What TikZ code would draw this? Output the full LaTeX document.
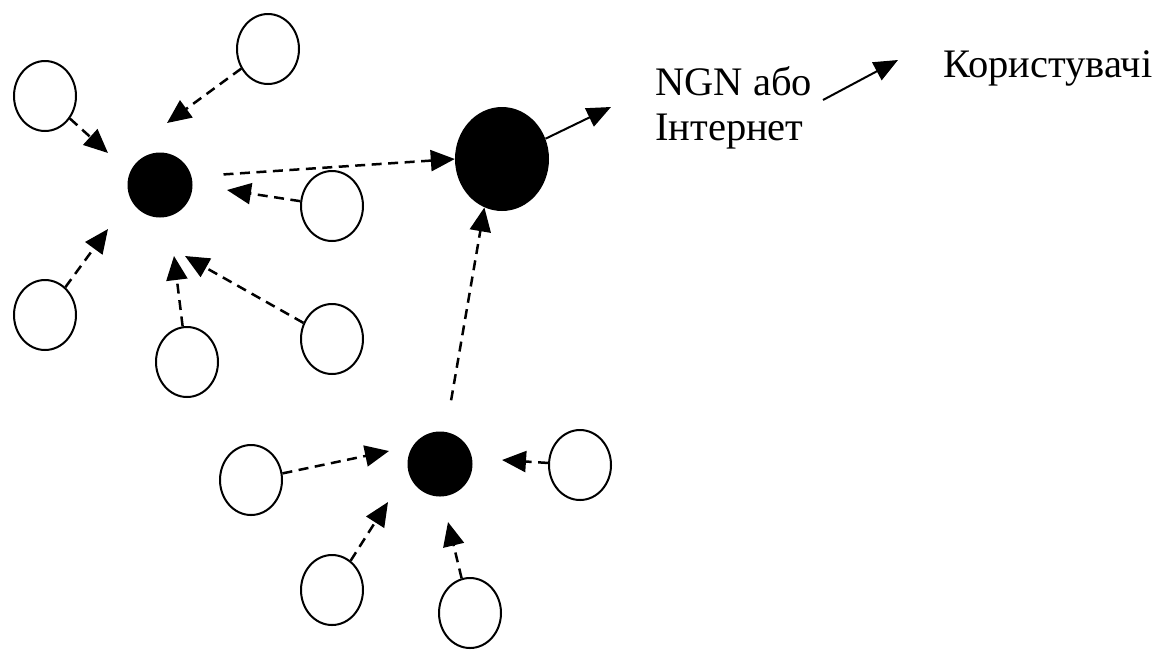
\documentclass[tikz,border=0pt]{standalone}
\usepackage{fontspec}
\setmainfont{Liberation Serif}
\usetikzlibrary{arrows.meta,shapes.geometric}
\begin{document}
\begin{tikzpicture}[x=1pt,y=-1pt,
  leaf/.style={draw,line width=2pt,ellipse,minimum width=62pt,minimum height=70pt,inner sep=0pt,fill=white},
  hub/.style={circle,fill=black,minimum size=65pt,inner sep=0pt},
  core/.style={ellipse,fill=black,minimum width=94pt,minimum height=104pt,inner sep=0pt},
  dasharrow/.style={line width=2.5pt,dash pattern=on 10pt off 6.5pt,-{Triangle[length=24pt,width=21pt]}},
  solidarrow/.style={line width=2pt,-{Triangle[length=24pt,width=20pt]}},
  lbl/.style={inner sep=0pt,anchor=base west,font=\fontsize{40.5}{46}\selectfont}]
\useasboundingbox (0,0) rectangle (1166,649);
% hubs
\node[hub] (hub1) at (160,185) {};
\node[hub] (hub2) at (440,464) {};
\node[core] (big) at (502,159) {};
% leaves
\node[leaf] (c1) at (45,96) {};
\node[leaf] (c2) at (268,49) {};
\node[leaf] (c3) at (332,206) {};
\node[leaf] (c4) at (45,315) {};
\node[leaf] (c5) at (187,362) {};
\node[leaf] (c6) at (332,339) {};
\node[leaf] (c7) at (251,480) {};
\node[leaf] (c8) at (580,465) {};
\node[leaf] (c9) at (332,590) {};
\node[leaf] (c10) at (470,613) {};
% labels
\node[lbl] (ngn1) at (655,95) {NGN або};
\node[lbl] (ngn2) at (655,140) {Інтернет};
\node[lbl] (kor) at (943,77) {Користувачі};
% arrow tips (free ends)
\coordinate (t1) at (108,153);
\coordinate (t2) at (167,123);
\coordinate (t3) at (227,190);
\coordinate (t4) at (108,229);
\coordinate (t5) at (174,256);
\coordinate (t6) at (185,256);
\coordinate (t7) at (389,451);
\coordinate (t8) at (502,460);
\coordinate (t9) at (388,502);
\coordinate (t10) at (448,522);
\coordinate (tn) at (611,107);
\coordinate (k0) at (823,100);
\coordinate (k1) at (898,60);
% connectors
\draw[dasharrow] (c1) -- (t1);
\draw[dasharrow] (c2) -- (t2);
\draw[dasharrow] (c3) -- (t3);
\draw[dasharrow] (c4) -- (t4);
\draw[dasharrow] (c5) -- (t5);
\draw[dasharrow] (c6) -- (t6);
\draw[dasharrow] (c7) -- (t7);
\draw[dasharrow] (c8) -- (t8);
\draw[dasharrow] (c9) -- (t9);
\draw[dasharrow] (c10) -- (t10);
\draw[dasharrow,shorten <=32pt] (hub1.15) -- (big.west);
\draw[dasharrow,shorten <=32pt] (hub2.80) -- (big.250);
\draw[solidarrow] (big.25) -- (tn);
\draw[solidarrow] (k0) -- (k1);
\end{tikzpicture}
\end{document}
